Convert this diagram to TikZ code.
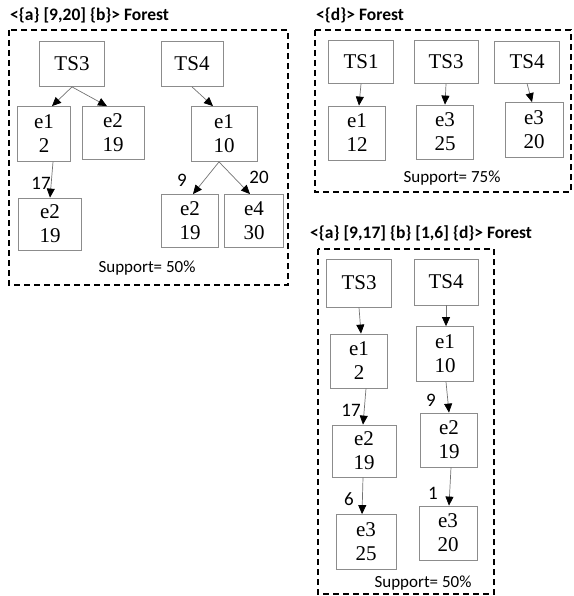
\documentclass[tikz,border=0pt]{standalone}
\usepackage{fontspec}
\setmainfont{Liberation Serif}
\newfontfamily\calfont{Carlito}
\usetikzlibrary{arrows.meta}

\begin{document}
\begin{tikzpicture}[
  x=1pt, y=-1pt,
  evbox/.style={
    rectangle, draw=black!45, line width=0.8pt, inner sep=0pt,
    minimum width=58pt, minimum height=54pt,
    font=\fontsize{21}{24}\selectfont, align=center,
  },
  tsbox/.style={evbox, minimum width=64pt, minimum height=45pt},
  arrow/.style={-{Triangle[length=9pt, width=8pt, color=black]}, line width=0.7pt, draw=black!55},
  frame/.style={dashed, dash pattern=on 6pt off 4pt, line width=1.4pt},
  title/.style={font=\calfont\bfseries\fontsize{17.5}{20}\selectfont, anchor=west, inner sep=0pt},
  supp/.style={font=\calfont\fontsize{17}{20}\selectfont, inner sep=0pt},
  numlab/.style={font=\calfont\fontsize{19}{22}\selectfont, inner sep=0pt},
]
\useasboundingbox (0,0) rectangle (573,596);

% Forest 1
\node[title] (t1) at (10,15) {<\{a\} [9,20] \{b\}> Forest};
\draw[frame] (9,30) rectangle (288,285);
\node[tsbox, minimum width=65pt] (a3) at (72,64) {TS3};
\node[tsbox, minimum width=62pt] (a4) at (192,64) {TS4};
\node[evbox, minimum width=53pt, minimum height=55pt] (a31) at (44,134) {e1\\2};
\node[evbox, minimum width=62pt, minimum height=53pt] (a32) at (113,133) {e2\\19};
\node[evbox, minimum width=63pt, minimum height=52pt] (a33) at (50,224) {e2\\19};
\node[evbox, minimum width=66pt, minimum height=55pt] (a41) at (224,134) {e1\\10};
\node[evbox, minimum width=57pt, minimum height=53pt] (a42) at (190,221) {e2\\19};
\node[evbox, minimum width=59pt, minimum height=53pt] (a43) at (254,221) {e4\\30};
\node[supp] (s1) at (147,268) {Support= 50\%};

\draw[arrow] (a3.south) -- ([xshift=8pt]a31.north);
\draw[arrow] (a3.south) -- ([xshift=-6pt]a32.north);
\draw[arrow] (a4.south) -- ([xshift=-11pt]a41.north);
\draw[arrow] ([xshift=9pt]a31.south) -- (a33.north);
\draw[arrow] ([xshift=-5pt]a41.south) -- ([xshift=3pt]a42.north);
\draw[arrow] ([xshift=-5pt]a41.south) -- ([xshift=-4pt]a43.north);
\node[numlab] (l17a) at (41,183) {17};
\node[numlab] (l9a) at (182,180) {9};
\node[numlab] (l20a) at (259,177) {20};

% Forest 2
\node[title] (t2) at (316,15) {<\{d\}> Forest};
\draw[frame] (315,30) rectangle (571,192);
\node[tsbox, minimum width=65pt, minimum height=43pt] (b1) at (361,62) {TS1};
\node[tsbox, minimum height=43pt] (b3) at (446,62) {TS3};
\node[tsbox, minimum width=65pt, minimum height=42pt] (b4) at (527,62) {TS4};
\node[evbox, minimum width=57pt] (b11) at (357,133) {e1\\12};
\node[evbox, minimum width=57pt] (b31) at (445,132) {e3\\25};
\node[evbox, minimum height=55pt] (b41) at (534,130) {e3\\20};
\node[supp] (s2) at (452,178) {Support= 75\%};

\draw[arrow] (b1.south) -- ([xshift=2pt]b11.north);
\draw[arrow] (b3.south) -- (b31.north);
\draw[arrow] (b4.south) -- ([xshift=-2pt]b41.north);

% Forest 3
\node[title] (t3) at (310,233) {<\{a\} [9,17] \{b\} [1,6] \{d\}> Forest};
\draw[frame] (318,249) rectangle (494,594);
\node[tsbox, minimum width=65pt, minimum height=48pt] (c3) at (359,283) {TS3};
\node[tsbox, minimum height=46pt] (c4) at (446,282) {TS4};
\node[evbox, minimum width=57pt] (c31) at (359,361) {e1\\2};
\node[evbox, minimum width=64pt, minimum height=52pt] (c32) at (364,451) {e2\\19};
\node[evbox, minimum width=60pt, minimum height=55pt] (c33) at (366,542) {e3\\25};
\node[evbox, minimum width=57pt, minimum height=55pt] (c41) at (445,354) {e1\\10};
\node[evbox, minimum width=57pt] (c42) at (449,440) {e2\\19};
\node[evbox] (c43) at (448,533) {e3\\20};
\node[supp] (s3) at (423,583) {Support= 50\%};

\draw[arrow] (c3.south) -- ([xshift=2pt]c31.north);
\draw[arrow] ([xshift=7pt]c31.south) -- ([xshift=-1pt]c32.north);
\draw[arrow] ([xshift=-1pt]c32.south) -- ([xshift=-4pt]c33.north);
\draw[arrow] (c4.south) -- ([xshift=1pt]c41.north);
\draw[arrow] ([xshift=1pt]c41.south) -- (c42.north);
\draw[arrow] ([xshift=2pt]c42.south) -- ([xshift=1pt]c43.north);
\node[numlab] (l17c) at (351,410) {17};
\node[numlab] (l9c) at (431,400) {9};
\node[numlab] (l6c) at (349,499) {6};
\node[numlab] (l1c) at (433,493) {1};

\end{tikzpicture}
\end{document}
